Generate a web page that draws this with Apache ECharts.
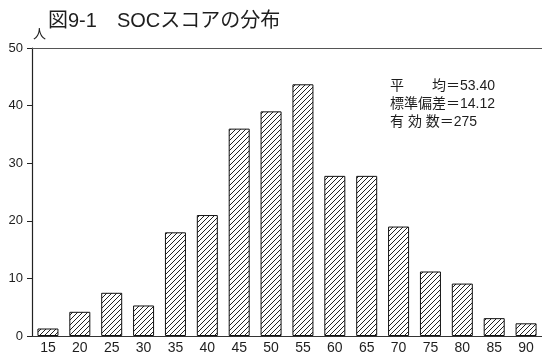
<!DOCTYPE html>
<html>
<head>
<meta charset="utf-8">
<script src="https://cdn.jsdelivr.net/npm/echarts@6/dist/echarts.min.js"></script>
<style>
html,body{margin:0;padding:0;background:#fff;}
#c{width:542px;height:355px;}
</style>
</head>
<body>
<div id="c"></div>
<script>
var categories = ['15','20','25','30','35','40','45','50','55','60','65','70','75','80','85','90'];
var counts = [1.3, 4.2, 7.5, 5.3, 18, 21, 36, 39, 43.7, 27.8, 27.8, 19, 11.2, 9.1, 3.1, 2.2];
var yTicks = [0, 10, 20, 30, 40, 50];
var titleText = '図9-1　SOCスコアの分布';
var statLines = ['平　　均＝53.40', '標準偏差＝14.12', '有 効 数＝275'];
var yUnit = '人';

var FONT = '"Liberation Sans", "Noto Sans CJK JP", sans-serif';
var INK = '#1e1e1e';

function hatch() {
  var s = 5;
  var cv = document.createElement('canvas');
  cv.width = s; cv.height = s;
  var ctx = cv.getContext('2d');
  ctx.fillStyle = '#fff';
  ctx.fillRect(0, 0, s, s);
  ctx.strokeStyle = '#222';
  ctx.lineWidth = 1;
  ctx.beginPath();
  ctx.moveTo(-1, s + 1); ctx.lineTo(s + 1, -1);
  ctx.moveTo(-1 - s, 1); ctx.lineTo(1, -1 - s);
  ctx.moveTo(s - 1, 2 * s + 1); ctx.lineTo(2 * s + 1, s - 1);
  ctx.stroke();
  return cv;
}

var chart = echarts.init(document.getElementById('c'), null, {renderer: 'canvas'});
chart.setOption({
  animation: false,
  backgroundColor: '#fff',
  grid: {left: 32, top: 48, width: 512, height: 290, containLabel: false},
  xAxis: [{
    type: 'category',
    data: categories,
    axisLine: {show: true, lineStyle: {color: '#333', width: 1}},
    axisTick: {show: false},
    axisLabel: {color: INK, fontSize: 14, margin: 5, fontFamily: FONT, interval: 0}
  }, {
    type: 'category',
    position: 'top',
    data: categories,
    axisLine: {show: true, onZero: false, lineStyle: {color: '#555', width: 1}},
    axisTick: {show: false},
    axisLabel: {show: false}
  }],
  yAxis: {
    type: 'value',
    min: yTicks[0],
    max: yTicks[yTicks.length - 1],
    interval: 10,
    name: yUnit,
    nameLocation: 'end',
    nameGap: 7,
    nameTextStyle: {color: INK, fontSize: 13, fontFamily: FONT, align: 'left', padding: [0, 0, 0, 1]},
    axisLine: {show: true, lineStyle: {color: '#222', width: 1.2}},
    axisTick: {show: true, length: 5, lineStyle: {color: '#222'}},
    axisLabel: {color: INK, fontSize: 13, margin: 9, fontFamily: FONT},
    splitLine: {show: false}
  },
  series: [{
    type: 'bar',
    data: counts,
    barWidth: 21,
    itemStyle: {
      color: {image: hatch(), repeat: 'repeat'},
      borderColor: '#111',
      borderWidth: 1
    }
  }],
  graphic: [{
    type: 'text',
    left: 48,
    top: 11,
    style: {text: titleText, fill: INK, font: '20px ' + FONT}
  }, {
    type: 'text',
    left: 390,
    top: 77,
    style: {text: statLines.join('\n'), fill: INK, font: '14px ' + FONT, lineHeight: 18}
  }]
});
</script>
</body>
</html>
